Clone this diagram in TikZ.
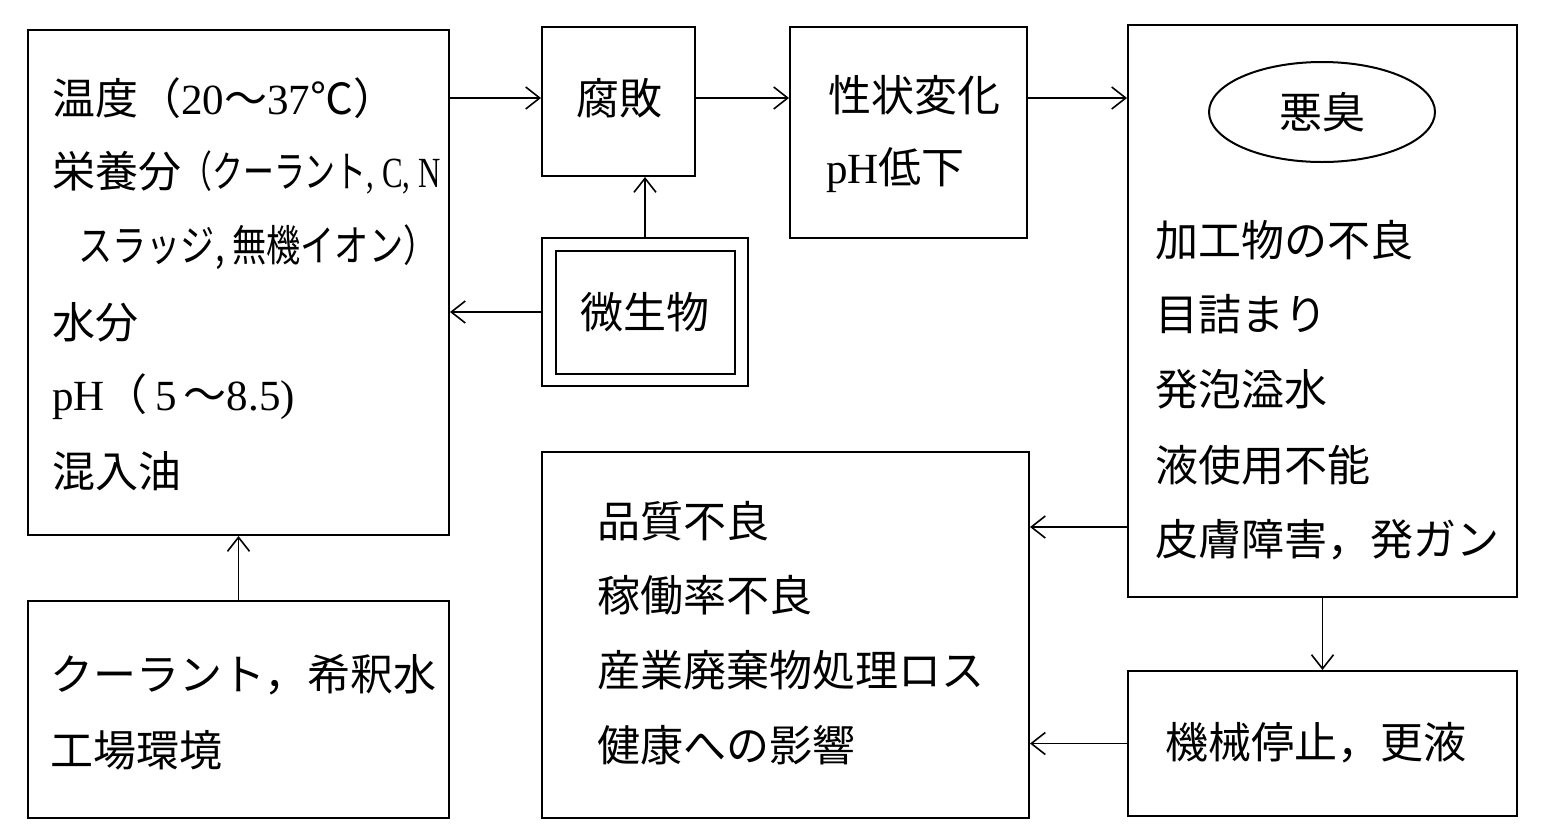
\documentclass[tikz,border=0pt]{standalone}
\usepackage{fontspec}
\usepackage{graphicx}
\setmainfont{Liberation Serif}
\newfontfamily\jp{Noto Sans CJK JP}
\usetikzlibrary{arrows.meta,fit,shapes.geometric}
\begin{document}
\begin{tikzpicture}[x=0.5pt,y=-0.5pt,
  box/.style={draw, line width=1pt, inner sep=0pt},
  arr/.style={-{Straight Barb[length=7pt,width=11pt]}, line width=0.8pt},
  txt/.style={anchor=west, inner sep=0pt, font=\fontsize{21.5}{21.5}\selectfont},
  ctxt/.style={inner sep=0pt, font=\jp\fontsize{21.5}{21.5}\selectfont}]
\useasboundingbox (0,0) rectangle (1541,836);
% boxes
\node[box, fit={(28,30) (449,535)}] (A) {};
\node[box, fit={(542,27) (695,176)}] (F) {};
\node[box, fit={(790,27) (1027,238)}] (S) {};
\node[box, fit={(1128,25) (1517,597)}] (R) {};
\node[box, fit={(542,238) (748,386)}] (M) {};
\node[box, fit={(556,251) (735,374)}] (Mi) {};
\node[box, fit={(28,601) (449,818)}] (B) {};
\node[box, fit={(542,452) (1029,818)}] (D) {};
\node[box, fit={(1128,671) (1517,816)}] (K) {};
\node[draw, line width=1pt, ellipse, minimum width=113pt, minimum height=50pt, inner sep=0pt, font=\jp\fontsize{21.5}{21.5}\selectfont] (O) at (1322,112) {悪臭};
% left box text
\node[txt] (a1) at (52,98) {{\jp 温度（}20{\jp ～}37{\jp ℃）}};
\node[txt] (a2) at (52,172) {{\jp 栄養分}\resizebox{129.5pt}{\height}{{\jp（クーラント}, C, N}};
\node[txt] (a3) at (78,247) {\resizebox{179.5pt}{\height}{\jp スラッジ, 無機イオン）}};
\node[txt] (a4) at (52,322) {\jp 水分};
\node[txt] (a5) at (52,397) {pH{\jp（}\,5\,{\jp ～}8.5)};
\node[txt] (a6) at (52,471) {\jp 混入油};
% middle top
\node[ctxt] (f1) at (619,98) {腐敗};
\node[txt] (s1) at (828,95) {\jp 性状変化};
\node[txt] (s2) at (826,170) {pH{\jp 低下}};
\node[ctxt] (m1) at (645,312) {微生物};
% right box text
\node[txt] (r1) at (1155,240) {\jp 加工物の不良};
\node[txt] (r2) at (1155,314) {\jp 目詰まり};
\node[txt] (r3) at (1155,389) {\jp 発泡溢水};
\node[txt] (r4) at (1155,465) {\jp 液使用不能};
\node[txt] (r5) at (1155,540) {\jp 皮膚障害，発ガン};
% middle bottom text
\node[txt] (d1) at (597,521) {\jp 品質不良};
\node[txt] (d2) at (597,595) {\jp 稼働率不良};
\node[txt] (d3) at (597,670) {\jp 産業廃棄物処理ロス};
\node[txt] (d4) at (597,745) {\jp 健康への影響};
% bottom left text
\node[txt] (b1) at (50,675) {\jp クーラント，希釈水};
\node[txt] (b2) at (50,750) {\jp 工場環境};
% machine stop
\node[txt] (k1) at (1165,743) {\jp 機械停止，更液};
% arrows
\coordinate (y98) at (0,98);
\coordinate (y527) at (0,527);
\draw[arr] (A.east |- y98) -- (F.west |- y98);
\draw[arr] (F.east |- y98) -- (S.west |- y98);
\draw[arr] (S.east |- y98) -- (R.west |- y98);
\draw[arr] (M.north) -- (M.north |- F.south);
\draw[arr] (M.west) -- (M.west -| A.east);
\draw[arr] (B.north) -- (B.north |- A.south);
\draw[arr] (R.west |- y527) -- (D.east |- y527);
\draw[arr] (R.south) -- (K.north);
\draw[arr] (K.west) -- (K.west -| D.east);
\end{tikzpicture}
\end{document}
